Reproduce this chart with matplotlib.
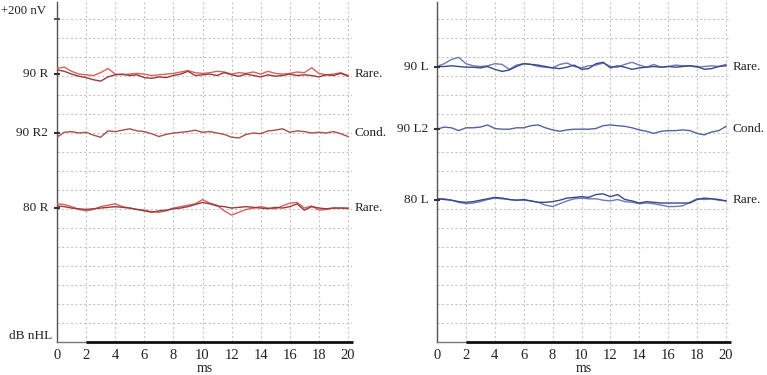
import numpy as np
import matplotlib
matplotlib.use("Agg")
import matplotlib.pyplot as plt

# ---------------- data (nV deviations, sampled every 0.5 ms) ----------------
time_ms = np.arange(0, 20.01, 0.5)

r90_rare_a = [40, 50, 20, 0, -5, -10, 10, 40, 0, -5, 0, 5, 0, -10, -5, 0, 5, 15, 25, 10, 5,
              10, 20, 15, 0, 10, 5, 15, 0, 20, 5, 0, 5, 15, 10, 45, 5, -5, 0, 10, -10]
r90_rare_b = [30, 20, 0, -15, -25, -40, -50, -20, -5, 0, -10, -5, -25, -30, -20, -25, -10, 0, 20, -10, -5,
              0, -10, 10, -5, -15, 0, -10, -20, -5, -15, -10, 0, -10, -5, -10, -20, -5, -10, 5, -15]
r90_cond = [-30, 5, 10, 0, 5, -15, -30, 15, 10, 20, 30, 15, 10, -5, -25, -10, 0, 5, 10, 20, 5,
            10, 0, -10, -30, -35, -10, 0, -5, 15, 20, 30, 5, 15, 10, 0, 5, 0, 10, -5, -25]
r80_rare_a = [30, 25, 10, -10, -20, -10, 10, 20, 30, 10, 0, -10, -15, -25, -30, -20, 0, 10, 20, 30, 60,
              35, 20, -20, -50, -30, -10, 0, 10, 0, -5, 15, 35, 40, 0, 15, -15, -10, 0, 0, -5]
r80_rare_b = [15, 10, 0, -5, -10, -5, 0, 5, 10, 5, 0, -10, -20, -30, -20, -15, -5, 0, 10, 25, 40,
              30, 15, 10, 0, 5, 10, 5, 0, -5, 5, 0, 10, 30, -15, 10, 0, -5, 0, 0, 0]

l90_rare_a = [0, 20, 50, 65, 20, 5, 0, 5, 20, 15, -20, 10, 20, 15, 0, -5, -10, 15, 25, 0, -10,
              5, 10, 25, 0, -5, 15, 30, 10, -5, 15, -5, 0, 10, 5, 5, -5, 0, 5, 0, 15]
l90_rare_b = [0, 0, 5, 0, -5, -5, -10, 0, -20, -35, -25, 0, 20, 15, 10, 0, -10, -15, -5, 10, -20,
              -15, 20, 30, -10, 5, -5, -20, -10, -5, 0, -5, 0, -5, 0, 5, 0, -20, -15, 0, 5]
l90_cond = [0, 15, 10, -10, 10, 10, 15, 30, 5, 0, 0, 10, 10, 25, 30, 10, -5, -15, -5, 0, 0,
            0, 5, 25, 30, 25, 20, 10, -5, -15, -30, -15, -10, -10, -5, -10, -30, -40, -20, -10, 20]
l80_rare_a = [5, 5, -5, -20, -30, -25, -15, 0, 10, 5, 0, -5, -5, -10, -20, -40, -50, -30, -10, 5, 10,
              5, 5, -5, -10, 0, -15, -20, -30, -25, -30, -40, -50, -50, -45, -20, 5, 0, 5, -5, -10]
l80_rare_b = [5, 0, -5, -15, -20, -15, -5, 5, 15, 10, 0, -5, 0, -10, -20, -20, -15, -5, 10, 15, 20,
              15, 35, 40, 20, 35, 0, -10, -25, -15, -20, -25, -25, -25, -25, -25, 0, 10, 5, 0, -10]

left_labels = ["90 R", "90 R2", "80 R"]
right_labels = ["90 L", "90 L2", "80 L"]
polarity = ["Rare.", "Cond.", "Rare."]
x_ticks = list(range(0, 21, 2))

# ---------------- layout / style ----------------
NV_PER_UNIT = 135.0
left_base = [14.1, 11.0, 7.05]
right_base = [14.5, 11.2, 7.5]

red_light, red_dark, red_cond = "#d8625c", "#963c3c", "#a8504c"
blue_light, blue_dark, blue_cond = "#6c79bb", "#3a4887", "#55629f"

plt.rcParams['font.family'] = ['Liberation Serif', 'DejaVu Serif']
FS = 9.5

W, H = 767, 375
fig = plt.figure(figsize=(W / 100, H / 100), dpi=100)

def make_axes(x0_px, px_per_ms):
    x_max = 20.25
    left = x0_px / W
    width = x_max * px_per_ms / W
    bottom = 1 - 342 / H
    height = 340 / H
    ax = fig.add_axes([left, bottom, width, height])
    ax.set_xlim(0, x_max)
    ax.set_ylim(0, 340 / 19.0)
    for s in ["top", "right", "bottom"]:
        ax.spines[s].set_visible(False)
    ax.spines["left"].set_color("#555555")
    ax.spines["left"].set_linewidth(1.0)
    ax.set_xticks(x_ticks)
    ax.set_xticklabels([str(t) for t in x_ticks], fontsize=FS + 1.0, color="#222222")
    ax.tick_params(axis="x", length=0, pad=5)
    ax.set_yticks(np.arange(1, 18))
    ax.set_yticklabels([])
    ax.tick_params(axis="y", length=0)
    ax.grid(True, color="#c6c6c6", linestyle=(0, (2, 2)), linewidth=0.8)
    ax.set_axisbelow(True)
    # x axis line: thin from 0-2, thick from 2 onward
    ax.plot([0, 2], [0, 0], color="#777777", lw=1.0, clip_on=False, zorder=5)
    ax.plot([2, x_max + 0.1], [0, 0], color="#111111", lw=2.0, clip_on=False, zorder=5,
            solid_capstyle="butt")
    ax.set_xlabel("ms", fontsize=FS + 0.5, labelpad=0, color="#222222")
    return ax

axL = make_axes(57, 14.55)
axR = make_axes(437, 14.45)

def draw(ax, bases, labels, traces, colors):
    for i, (b, lab) in enumerate(zip(bases, labels)):
        for vals, col in zip(traces[i], colors[i]):
            ax.plot(time_ms, b + np.array(vals) / NV_PER_UNIT, color=col, lw=1.0, zorder=3)
        ax.text(-0.6, b, lab, ha="right", va="center", fontsize=FS, color="#222222")
        ax.text(20.45, b, polarity[i], ha="left", va="center", fontsize=FS, color="#222222",
                clip_on=False)
        ax.plot([0], [b], marker="_", color="#333333", ms=4, mew=1.5, clip_on=False, zorder=6)

draw(axL, left_base, left_labels,
     [[r90_rare_a, r90_rare_b], [r90_cond], [r80_rare_a, r80_rare_b]],
     [[red_light, red_dark], [red_cond], [red_light, red_dark]])
draw(axR, right_base, right_labels,
     [[l90_rare_a, l90_rare_b], [l90_cond], [l80_rare_a, l80_rare_b]],
     [[blue_light, blue_dark], [blue_cond], [blue_light, blue_dark]])

# scale bar labels on the left panel
axL.plot([0], [17.0], marker="_", color="#333333", ms=4, mew=1.2, clip_on=False)
axL.text(-0.75, 17.4, "+200 nV", ha="right", va="center", fontsize=FS - 0.3, color="#222222")
axL.text(-0.3, 0.3, "dB nHL", ha="right", va="center", fontsize=FS, color="#222222")

fig.savefig("out.png", dpi=100)
